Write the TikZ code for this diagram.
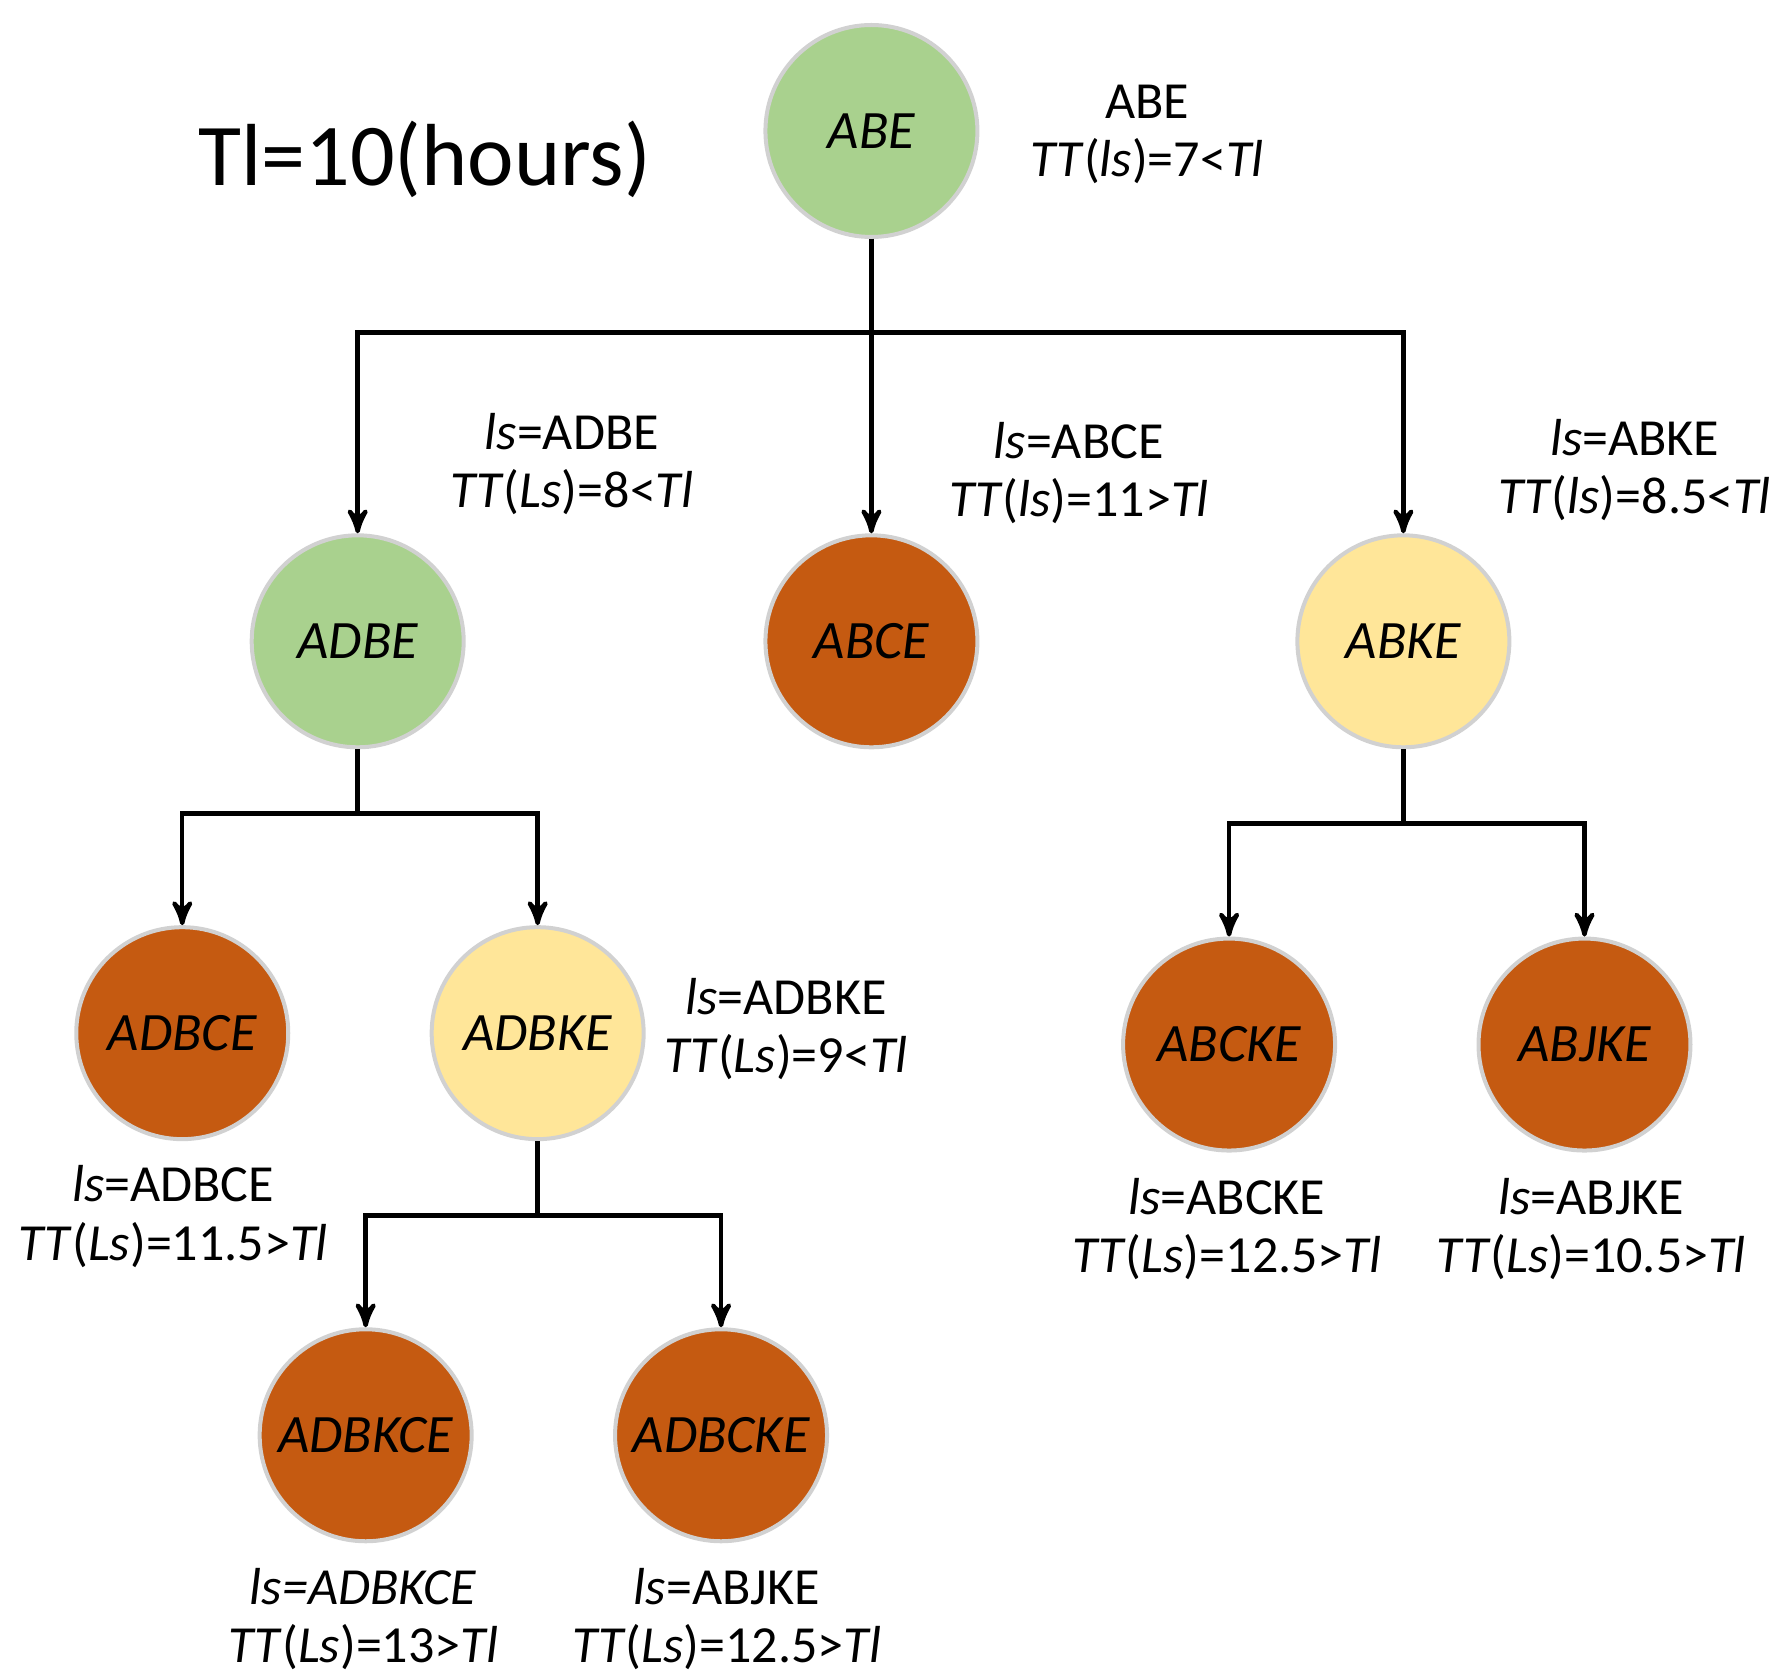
\documentclass[tikz,border=0pt]{standalone}
\usepackage{fontspec}
\setmainfont{Carlito}
\usetikzlibrary{arrows,positioning}
\definecolor{okgreen}{HTML}{A9D18E}
\definecolor{badorange}{HTML}{C55A11}
\definecolor{midyellow}{HTML}{FFE699}
\tikzset{
    %Define standard arrow tip
    >=stealth',
    %Define style for route circles
    route/.style={
           circle,
           draw=black!18, line width=1pt,
           minimum size=1.86cm,
           inner sep=0pt,
           font=\fontsize{13.5}{16}\selectfont\itshape},
    good/.style={route, fill=okgreen},
    bad/.style={route, fill=badorange},
    mid/.style={route, fill=midyellow},
    % Define label style
    info/.style={
           align=center,
           font=\fontsize{13}{14.5}\selectfont},
    % Define arrow style
    pil/.style={
           ->,
           line width=1.1pt},
}
\newcommand{\ttl}[2]{\textit{TT}(\textit{#1})=#2\textit{Tl}}
\begin{document}
\begin{tikzpicture}[x=0.01cm,y=-0.01cm]
\useasboundingbox (0,0) rectangle (1560,1470);

% Titel
\node[font=\fontsize{22}{26}\selectfont] (title) at (373,140) {Tl=10(hours)};

% Kreise
\node[good] (abe) at (765,115) {ABE};
\node[good] (adbe) at (314,563) {ADBE};
\node[bad] (abce) at (765,563) {ABCE};
\node[mid] (abke) at (1232,563) {ABKE};
\node[bad] (adbce) at (160,907) {ADBCE};
\node[mid] (adbke) at (472,907) {ADBKE};
\node[bad] (abcke) at (1079,917) {ABCKE};
\node[bad] (abjke) at (1391,917) {ABJKE};
\node[bad] (adbkce) at (321,1260) {ADBKCE};
\node[bad] (adbcke) at (633,1260) {ADBCKE};

% Beschriftungen
\node[info] (labe) at (1007,118) {ABE\\\ttl{ls}{7<}};
\node[info] (ladbe) at (502,407) {\textit{ls}=ADBE\\\ttl{Ls}{8<}};
\node[info] (labce) at (947,415) {\textit{ls}=ABCE\\\ttl{ls}{11>}};
\node[info] (labke) at (1435,413) {\textit{ls}=ABKE\\\ttl{ls}{8.5<}};
\node[info] (ladbke) at (690,903) {\textit{ls}=ADBKE\\\ttl{Ls}{9<}};
\node[info] (ladbce) at (152,1068) {\textit{ls}=ADBCE\\\ttl{Ls}{11.5>}};
\node[info] (labcke) at (1077,1079) {\textit{ls}=ABCKE\\\ttl{Ls}{12.5>}};
\node[info] (labjke) at (1397,1079) {\textit{ls}=ABJKE\\\ttl{Ls}{10.5>}};
\node[info] (ladbkce) at (319,1421) {\textit{ls=ADBKCE}\\\ttl{Ls}{13>}};
\node[info] (ladbcke) at (638,1421) {\textit{ls}=ABJKE\\\ttl{Ls}{12.5>}};

% Pfeile
\draw[pil] (abe.south) -- (abe.south |- 0,292) -| (adbe.north);
\draw[pil] (abe.south) -- (abce.north);
\draw[pil] (abe.south) -- (abe.south |- 0,292) -| (abke.north);
\draw[pil] (adbe.south) -- (adbe.south |- 0,714) -| (adbce.north);
\draw[pil] (adbe.south) -- (adbe.south |- 0,714) -| (adbke.north);
\draw[pil] (abke.south) -- (abke.south |- 0,723) -| (abcke.north);
\draw[pil] (abke.south) -- (abke.south |- 0,723) -| (abjke.north);
\draw[pil] (adbke.south) -- (adbke.south |- 0,1067) -| (adbkce.north);
\draw[pil] (adbke.south) -- (adbke.south |- 0,1067) -| (adbcke.north);
\end{tikzpicture}
\end{document}
